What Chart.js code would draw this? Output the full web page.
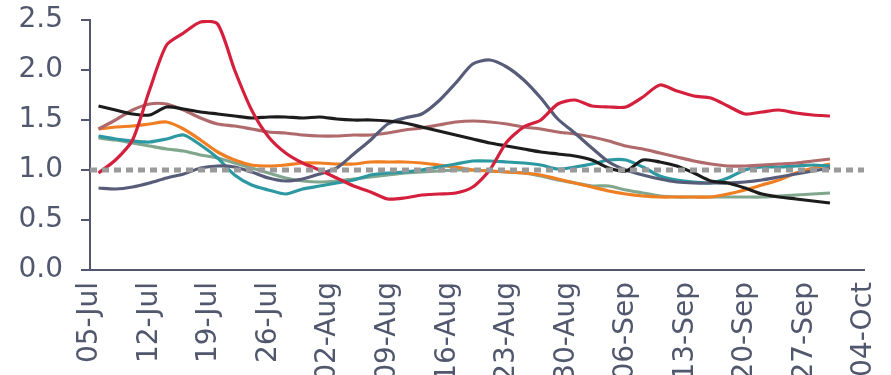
<!DOCTYPE html>
<html>
<head>
<meta charset="utf-8">
<style>
  html, body { margin: 0; padding: 0; background: #fff; }
  #wrap { width: 891px; height: 375px; }
</style>
<script src="https://cdn.jsdelivr.net/npm/chart.js@4/dist/chart.umd.min.js"></script>
</head>
<body>
<div id="wrap"><canvas id="chart"></canvas></div>
<script>
// days counted from 05-Jul
const days = [1, 3, 5, 7, 9, 11, 13, 15, 17, 19, 21, 23, 25, 27, 29, 31, 33, 35, 37, 39, 41, 43,
  45, 47, 49, 51, 53, 55, 57, 59, 61, 63, 65, 67, 69, 71, 73, 75, 77, 79, 81, 83, 85, 87];

const tickDays = [0, 7, 14, 21, 28, 35, 42, 49, 56, 63, 70, 77, 84, 91];
const tickLabels = ['05-Jul', '12-Jul', '19-Jul', '26-Jul', '02-Aug', '09-Aug', '16-Aug',
  '23-Aug', '30-Aug', '06-Sep', '13-Sep', '20-Sep', '27-Sep', '04-Oct'];

const redSeries = [0.97, 1.1, 1.3, 1.8, 2.25, 2.37, 2.48, 2.46, 2.0, 1.6, 1.33, 1.17, 1.07, 1.0,
  0.92, 0.84, 0.78, 0.71, 0.72, 0.75, 0.76, 0.77, 0.83, 1.0, 1.28, 1.43, 1.5, 1.66, 1.7, 1.64,
  1.63, 1.63, 1.73, 1.85, 1.79, 1.74, 1.72, 1.64, 1.56, 1.58, 1.6, 1.57, 1.55, 1.54];
const slateSeries = [0.82, 0.81, 0.83, 0.87, 0.92, 0.96, 1.02, 1.04, 1.03, 0.98, 0.92, 0.89,
  0.91, 0.96, 1.02, 1.16, 1.3, 1.46, 1.52, 1.56, 1.69, 1.87, 2.06, 2.1, 2.03, 1.9, 1.72, 1.51,
  1.37, 1.22, 1.08, 1.0, 0.95, 0.91, 0.88, 0.87, 0.87, 0.87, 0.88, 0.9, 0.93, 0.96, 0.99, 1.02];
const blackSeries = [1.64, 1.6, 1.56, 1.55, 1.63, 1.61, 1.58, 1.56, 1.54, 1.52, 1.53, 1.53,
  1.52, 1.53, 1.51, 1.5, 1.5, 1.49, 1.47, 1.43, 1.39, 1.35, 1.31, 1.27, 1.24, 1.21, 1.18, 1.16,
  1.14, 1.1, 1.02, 0.99, 1.1, 1.08, 1.04, 0.97, 0.89, 0.87, 0.82, 0.76, 0.73, 0.71, 0.69, 0.67];
const roseSeries = [1.41, 1.5, 1.6, 1.66, 1.66, 1.6, 1.52, 1.46, 1.44, 1.41, 1.38, 1.37, 1.35,
  1.34, 1.34, 1.35, 1.35, 1.37, 1.4, 1.42, 1.45, 1.48, 1.49, 1.48, 1.46, 1.43, 1.41, 1.38, 1.36,
  1.33, 1.29, 1.24, 1.21, 1.17, 1.13, 1.09, 1.06, 1.04, 1.04, 1.05, 1.06, 1.07, 1.09, 1.11];
const orangeSeries = [1.41, 1.43, 1.44, 1.46, 1.48, 1.41, 1.3, 1.18, 1.1, 1.05, 1.04, 1.05,
  1.07, 1.07, 1.06, 1.06, 1.08, 1.08, 1.08, 1.07, 1.05, 1.03, 1.0, 0.99, 0.98, 0.97, 0.95, 0.91,
  0.87, 0.83, 0.79, 0.76, 0.74, 0.73, 0.73, 0.73, 0.73, 0.76, 0.8, 0.85, 0.9, 0.97, 1.02, 1.06];
const tealSeries = [1.34, 1.31, 1.29, 1.28, 1.31, 1.35, 1.25, 1.12, 0.95, 0.85, 0.8, 0.76, 0.81,
  0.84, 0.87, 0.9, 0.95, 0.97, 0.98, 1.0, 1.03, 1.06, 1.09, 1.09, 1.08, 1.07, 1.05, 1.01, 1.03,
  1.06, 1.1, 1.1, 1.03, 0.94, 0.9, 0.88, 0.87, 0.92, 1.0, 1.03, 1.03, 1.04, 1.05, 1.04];
const sageSeries = [1.32, 1.3, 1.27, 1.24, 1.21, 1.19, 1.15, 1.12, 1.07, 1.02, 0.97, 0.92, 0.89,
  0.88, 0.89, 0.91, 0.93, 0.95, 0.97, 0.98, 0.99, 1.0, 1.0, 0.99, 0.98, 0.97, 0.94, 0.9, 0.87,
  0.84, 0.84, 0.8, 0.77, 0.74, 0.73, 0.73, 0.73, 0.73, 0.73, 0.73, 0.74, 0.75, 0.76, 0.77];

const yTicks = [0, 0.5, 1.0, 1.5, 2.0, 2.5];
const parity = 1.0;

const axisColor = '#51576d';

function pts(values) {
  return values.map((v, i) => ({ x: days[i], y: v }));
}

function line(values, color) {
  return {
    data: pts(values),
    borderColor: color,
    borderWidth: 3.2,
    pointRadius: 0,
    tension: 0.25,
    fill: false
  };
}

const ctx = document.getElementById('chart').getContext('2d');
new Chart(ctx, {
  type: 'line',
  data: {
    datasets: [
      {
        data: [{ x: tickDays[0], y: parity }, { x: tickDays[tickDays.length - 1], y: parity }],
        borderColor: '#9a9a9a',
        borderWidth: 5,
        borderDash: [7, 5],
        borderCapStyle: 'butt',
        pointRadius: 0,
        fill: false
      },
      line(redSeries, '#d41f3d'),
      line(blackSeries, '#1c1c1c'),
      line(slateSeries, '#575d78'),
      line(roseSeries, '#b06a6c'),
      line(tealSeries, '#2b98a2'),
      line(orangeSeries, '#f07e22'),
      line(sageSeries, '#80a68d')
    ]
  },
  options: {
    responsive: true,
    maintainAspectRatio: false,
    animation: false,
    layout: { padding: { top: 20, right: 27, bottom: 0, left: 0 } },
    plugins: {
      legend: { display: false },
      tooltip: { enabled: false }
    },
    scales: {
      x: {
        type: 'linear',
        min: tickDays[0],
        max: tickDays[tickDays.length - 1],
        afterBuildTicks: (scale) => {
          scale.ticks = tickDays.map(v => ({ value: v }));
        },
        afterFit: (scale) => {
          scale.height = 105;
          scale.paddingLeft = 0;
          scale.paddingRight = 0;
        },
        grid: { display: false, drawTicks: false },
        border: { color: axisColor, width: 2 },
        ticks: {
          autoSkip: false,
          maxRotation: 90,
          minRotation: 90,
          padding: 12,
          color: axisColor,
          font: { family: 'DejaVu Sans', size: 28 },
          callback: (value) => tickLabels[tickDays.indexOf(value)]
        }
      },
      y: {
        min: 0,
        max: 2.5,
        afterBuildTicks: (scale) => {
          scale.ticks = yTicks.map(v => ({ value: v }));
        },
        afterFit: (scale) => {
          scale.width = 90;
          scale.paddingTop = 0;
          scale.paddingBottom = 0;
        },
        grid: {
          drawOnChartArea: false,
          drawTicks: true,
          tickLength: 9,
          color: axisColor,
          lineWidth: 2
        },
        border: { color: axisColor, width: 2 },
        ticks: {
          padding: 18,
          color: axisColor,
          font: { family: 'DejaVu Sans', size: 28 },
          callback: (value) => Number(value).toFixed(1)
        }
      }
    }
  }
});
</script>
</body>
</html>
